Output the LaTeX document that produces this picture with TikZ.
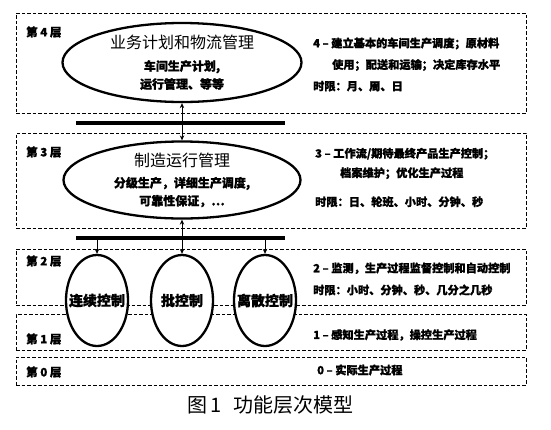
\documentclass[tikz,border=0pt]{standalone}
\usepackage{fontspec}
\setmainfont{Noto Sans CJK SC}[BoldFeatures={FakeBold=1.2}]
\usetikzlibrary{shapes.geometric,arrows.meta}
\begin{document}
\begin{tikzpicture}
	[x=1pt,y=-1pt,>={Stealth[length=5pt,width=4.5pt]},
	band/.style={draw,dash pattern=on 3.5pt off 2pt,line width=0.9pt,inner sep=0pt,minimum width=510pt},
	task/.style={ellipse,draw,line width=2.3pt,fill=white,inner sep=0pt,align=center,
		font=\bfseries\fontsize{12}{18}\selectfont},
	ctrl/.style={ellipse,draw,line width=2.3pt,fill=white,minimum width=62pt,minimum height=91pt},
	ctrltext/.style={font=\bfseries\fontsize{14}{14}\selectfont,inner sep=0pt},
	bar/.style={fill=black,inner sep=0pt,minimum width=209pt,minimum height=4.5pt},
	tier/.style={font=\bfseries\fontsize{11.5}{13}\selectfont,anchor=west,inner sep=0pt},
	note/.style={font=\bfseries\fontsize{11.2}{21.5}\selectfont,anchor=west,align=left,inner sep=0pt}]
	\useasboundingbox (0,0) rectangle (551,429);
	\node[band,minimum height=100pt] (L4) at (271,63) {};
	\node[band,minimum height=95pt] (L3) at (271,180.5) {};
	\node[band,minimum height=56pt] (L2) at (271,277) {};
	\node[band,minimum height=36pt] (L1) at (271,332) {};
	\node[band,minimum height=28pt] (L0) at (271,371) {};
	\node[tier] (N4) at (26,32) {第 4 层};
	\node[tier] (N3) at (26,152) {第 3 层};
	\node[tier] (N2) at (26,261) {第 2 层};
	\node[tier] (N1) at (26,339) {第 1 层};
	\node[tier] (N0) at (26,372) {第 0 层};
	\node[bar] (B4) at (180.5,123) {};
	\node[bar] (B3) at (180.5,238) {};
	\node[task,minimum width=239pt,minimum height=79pt] (E4) at (182,62.5)
		{{\mdseries\fontsize{16}{16}\selectfont 业务计划和物流管理}\\[4pt]
		车间生产计划,\\运行管理、等等};
	\node[task,minimum width=237pt,minimum height=77pt] (E3) at (182,180)
		{{\mdseries\fontsize{16}{16}\selectfont 制造运行管理}\\[3pt]
		分级生产，详细生产调度,\\可靠性保证，…};
	\node[ctrl,label={[ctrltext]center:连续控制}] (C1) at (97,300.5) {};
	\node[ctrl,label={[ctrltext]center:批控制}] (C2) at (182,300.5) {};
	\node[ctrl,label={[ctrltext]center:离散控制}] (C3) at (265,300.5) {};
	\draw[<->,line width=0.8pt] (E4.south) -- (E3.north);
	\draw[<->,line width=0.8pt] (E3.south) -- (C2.north);
	\draw[->,line width=0.8pt] (B3.south -| C1.north) -- (C1.north);
	\draw[->,line width=0.8pt] (B3.south -| C3.north) -- (C3.north);
	\node[note] (D4) at (313,64.5)
		{4 -- 建立基本的车间生产调度；原材料\\
		\hspace*{19pt}使用；配送和运输；决定库存水平\\
		时限：月、周、日};
	\node[note,font=\bfseries\fontsize{11.2}{19.5}\selectfont] (D3) at (315,177.5)
		{3 -- 工作流/期待最终产品生产控制；\\
		\hspace*{25pt}档案维护；优化生产过程\\[9.5pt]
		时限：日、轮班、小时、分钟、秒};
	\node[note,font=\bfseries\fontsize{11.2}{22}\selectfont] (D2) at (313,279)
		{2 -- 监测，生产过程监督控制和自动控制\\
		时限：小时、分钟、秒、几分之几秒};
	\node[note] (D1) at (313,335) {1 -- 感知生产过程，操控生产过程};
	\node[note] (D0) at (317,370) {0 -- 实际生产过程};
	\node[font=\fontsize{20}{20}\selectfont] (Cap) at (270.5,405) {图\,1\hspace{12pt}功能层次模型};
\end{tikzpicture}
\end{document}
